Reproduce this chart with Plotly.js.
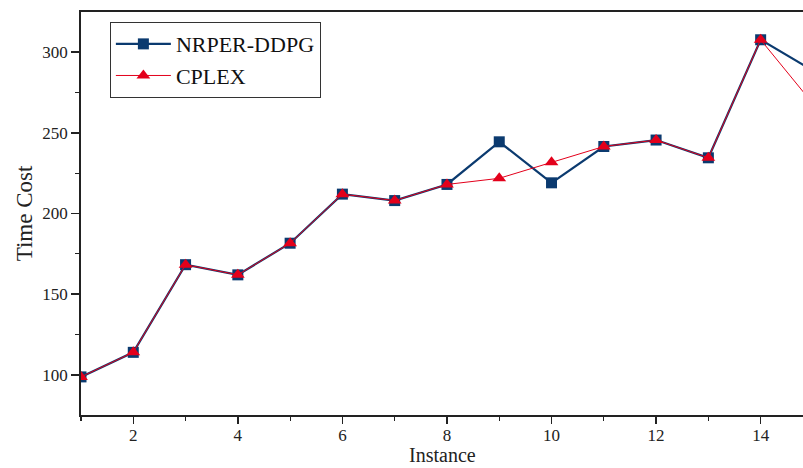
<!DOCTYPE html>
<html><head><meta charset="utf-8">
<script src="https://cdn.plot.ly/plotly-3.0.1.min.js"></script>
<style>html,body{margin:0;padding:0;background:#fff}#c{width:803px;height:468px}</style>
</head><body><div id="c"></div>
<script>
var instances = [1,2,3,4,5,6,7,8,9,10,11,12,13,14,15];
var nrperDdpg = [98.8,114,168.3,162,181.6,212,208,218,244.4,219,241.5,245.5,234.5,307.6,288.5];
var cplex     = [98.8,114,168.3,162,181.6,212,208,218,221.8,231.8,241.5,245.5,234.5,307.6,268];
var yTicks = [100,150,200,250,300];
var xTicks = [2,4,6,8,10,12,14];
var xTitle = 'Instance';
var yTitle = 'Time Cost';

var fontFam = '"Liberation Serif", "DejaVu Serif", serif';
var traces = [
  {x: instances, y: nrperDdpg, name: 'NRPER-DDPG', mode: 'lines+markers',
   line: {color: '#0b3a6f', width: 2.2},
   marker: {symbol: 'square', size: 11, color: '#0b3a6f'}},
  {x: instances, y: cplex, name: 'CPLEX', mode: 'lines+markers',
   line: {color: '#e3001b', width: 1},
   marker: {symbol: 'triangle-up', size: 12, color: '#e3001b'}}
];
var layout = {
  width: 803, height: 468,
  margin: {l: 81, r: 0, t: 12, b: 53},
  paper_bgcolor: '#fff', plot_bgcolor: '#fff',
  font: {family: fontFam, color: '#222', size: 17},
  showlegend: true,
  legend: {x: 0.04, y: 0.975, xanchor: 'left', yanchor: 'top',
    bordercolor: '#333', borderwidth: 1, bgcolor: '#fff',
    font: {family: fontFam, size: 22, color: '#111'}, itemwidth: 55,
    tracegroupgap: 0},
  annotations: [{text: xTitle, xref: 'paper', yref: 'paper', x: 0.5, y: -0.128,
    xanchor: 'center', yanchor: 'bottom', showarrow: false, borderpad: 0,
    font: {family: fontFam, size: 20, color: '#222'}}],
  xaxis: {range: [1, 14.81], tickvals: xTicks, ticktext: xTicks.map(String),
    ticks: 'outside', ticklen: 7, tickwidth: 1.5, tickcolor: '#222',
    showline: true, linecolor: '#222', linewidth: 1.8, mirror: true,
    showgrid: false, zeroline: false, ticklabelstandoff: -3,
    minor: {dtick: 1, tick0: 1, ticks: 'outside', ticklen: 4, tickcolor: '#222', tickwidth: 1.2, showgrid: false},
    tickfont: {size: 17}},
  yaxis: {range: [75.2, 324.8], tickvals: yTicks, ticktext: yTicks.map(String),
    ticks: 'outside', ticklen: 8, tickwidth: 1.5, tickcolor: '#222',
    showline: true, linecolor: '#222', linewidth: 1.8, mirror: false,
    showgrid: false, zeroline: false,
    minor: {dtick: 25, tick0: 75, ticks: 'outside', ticklen: 4, tickcolor: '#222', tickwidth: 1.2, showgrid: false},
    title: {text: yTitle, font: {size: 23}, standoff: 3},
    tickfont: {size: 17}}
};
Plotly.newPlot('c', traces, layout, {displayModeBar: false, staticPlot: true});
</script></body></html>
